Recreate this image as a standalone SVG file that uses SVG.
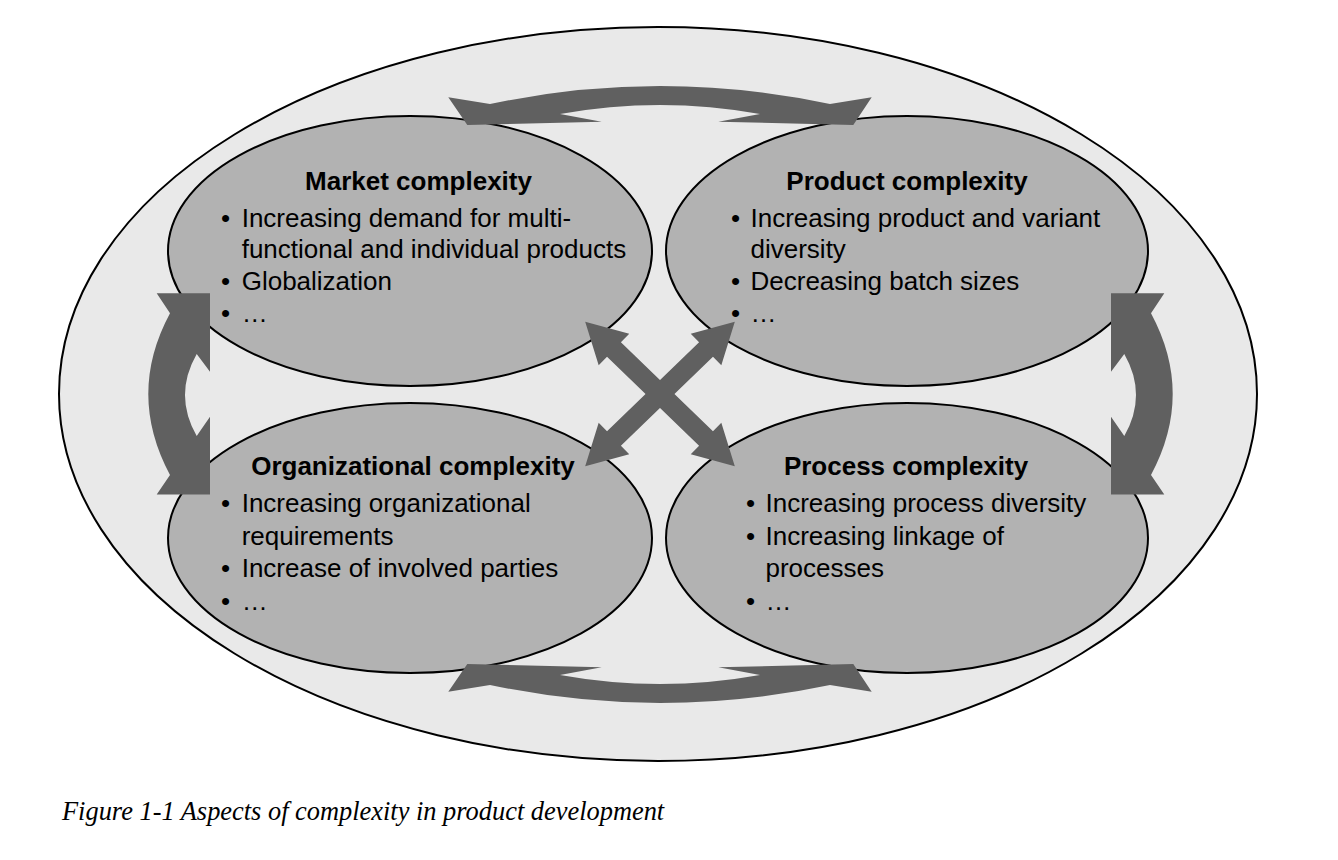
<svg xmlns="http://www.w3.org/2000/svg" width="1338" height="860" viewBox="0 0 1338 860">
<style>
.bg{fill:#ffffff}
.outer{fill:#e9e9e9;stroke:#000;stroke-width:2}
.node{fill:#b2b2b2;stroke:#000;stroke-width:2}
.arr{fill:#606060;stroke:none}
.t{font-family:"Liberation Sans",Arial,sans-serif;font-size:26px;fill:#000}
.h{font-weight:bold;text-anchor:middle}
.cap{font-family:"Liberation Serif","Times New Roman",serif;font-style:italic;font-size:26.4px;fill:#000}
</style>
<defs>
<path id="dbl" d="M -104 0 L -64 -22 L -64 -10 L 64 -10 L 64 -22 L 104 0 L 64 22 L 64 10 L -64 10 L -64 22 Z"/>
</defs>
<rect class="bg" x="0" y="0" width="1338" height="860"/>
<ellipse id="outer" class="outer" cx="658" cy="394" rx="599" ry="367"/>
<g id="market"><ellipse class="node" cx="410" cy="251" rx="242" ry="135"/></g>
<g id="product"><ellipse class="node" cx="907" cy="251" rx="241" ry="135"/></g>
<g id="organizational"><ellipse class="node" cx="410" cy="538" rx="242" ry="135"/></g>
<g id="process"><ellipse class="node" cx="907" cy="538" rx="241" ry="135"/></g>
<g id="connectors">
<path class="arr" d="M 448.3 97.3 L 490 104 Q 660 68 830 104 L 871.7 97.3 L 853.3 125 L 718.3 121.7 L 760 114 Q 660 96 560 114 L 601.7 121.7 L 467.3 125 Z"/>
<path class="arr" d="M 448.3 691.7 L 490 685 Q 660 721 830 685 L 871.7 691.7 L 853.3 664 L 718.3 667.3 L 760 675 Q 660 693 560 675 L 601.7 667.3 L 467.3 664 Z"/>
<path class="arr" d="M 210 293.3 L 156.7 293.3 L 170 313.3 Q 126.6 394 170 475 L 156.7 494.5 L 210 494.5 L 210 416.7 L 196.7 436 Q 173.3 395 196.7 354 L 210 371.7 Z"/>
<path class="arr" d="M 1111 293.3 L 1164.3 293.3 L 1151 313.3 Q 1194.4 394 1151 475 L 1164.3 494.5 L 1111 494.5 L 1111 416.7 L 1124.3 436 Q 1147.7 395 1124.3 354 L 1111 371.7 Z"/>
<use href="#dbl" class="arr" transform="translate(660 394) rotate(44)"/>
<use href="#dbl" class="arr" transform="translate(660 394) rotate(-44)"/>
</g>
<g id="market-text" class="t">
<text class="t h" x="418.5" y="189.5">Market complexity</text>
<text class="t" x="221" y="226.7">•</text><text class="t" x="241.7" y="226.7">Increasing demand for multi-</text>
<text class="t" x="241.7" y="258.3">functional and individual products</text>
<text class="t" x="221" y="289.5">•</text><text class="t" x="241.7" y="289.5">Globalization</text>
<text class="t" x="221" y="322">•</text><text class="t" x="241.7" y="322">…</text>
</g>
<g id="product-text">
<text class="t h" x="907" y="189.5">Product complexity</text>
<text class="t" x="731" y="226.7">•</text><text class="t" x="750.5" y="226.7">Increasing product and variant</text>
<text class="t" x="750.5" y="258.3">diversity</text>
<text class="t" x="731" y="289.5">•</text><text class="t" x="750.5" y="289.5">Decreasing batch sizes</text>
<text class="t" x="731" y="322">•</text><text class="t" x="750.5" y="322">…</text>
</g>
<g id="organizational-text">
<text class="t h" x="413" y="475">Organizational complexity</text>
<text class="t" x="221" y="512">•</text><text class="t" x="241.7" y="512">Increasing organizational</text>
<text class="t" x="241.7" y="545">requirements</text>
<text class="t" x="221" y="577">•</text><text class="t" x="241.7" y="577">Increase of involved parties</text>
<text class="t" x="221" y="610">•</text><text class="t" x="241.7" y="610">…</text>
</g>
<g id="process-text">
<text class="t h" x="906" y="475">Process complexity</text>
<text class="t" x="746" y="512">•</text><text class="t" x="765.5" y="512">Increasing process diversity</text>
<text class="t" x="746" y="545">•</text><text class="t" x="765.5" y="545">Increasing linkage of</text>
<text class="t" x="765.5" y="577">processes</text>
<text class="t" x="746" y="610">•</text><text class="t" x="765.5" y="610">…</text>
</g>
<text class="cap" x="62" y="820">Figure 1-1 Aspects of complexity in product development</text>
</svg>
